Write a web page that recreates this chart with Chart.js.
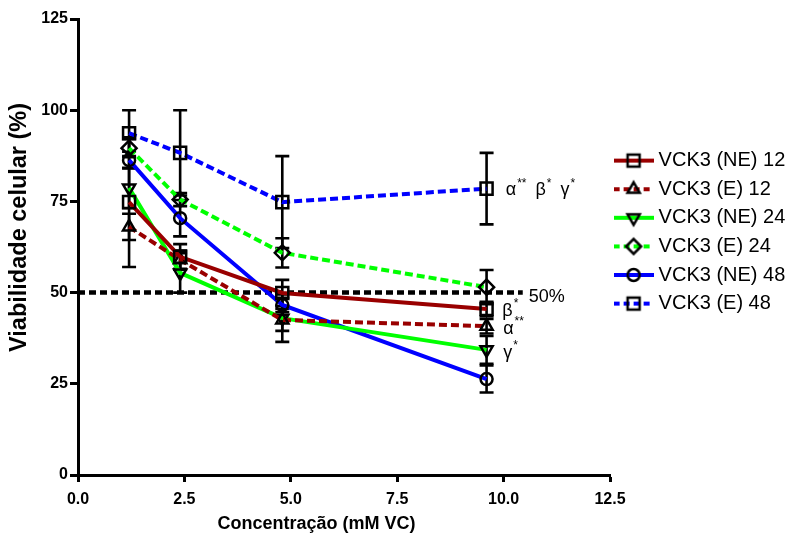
<!DOCTYPE html>
<html lang="pt">
<head>
  <meta charset="UTF-8">
  <title>Viabilidade celular - VCK3</title>
  <script src="https://cdn.jsdelivr.net/npm/chart.js"></script>
  <style>
    html, body {
      margin: 0;
      padding: 0;
      background: #fff;
    }
  </style>
</head>
<body>
<canvas id="viabChart" width="793" height="535"></canvas>

<script>
  // concentrations (mM VC) and viability (%)
  const concentrations = [1.2, 2.4, 4.8, 9.6];
  const seriesNames = ['VCK3 (NE) 12', 'VCK3 (E) 12', 'VCK3 (NE) 24', 'VCK3 (E) 24', 'VCK3 (NE) 48', 'VCK3 (E) 48'];

  const ne12 = [74.8, 59.8, 49.9, 45.5];
  const e12 = [68.0, 59.0, 42.5, 40.8];
  const ne24 = [78.7, 55.4, 43.0, 34.3];
  const e24 = [89.6, 75.5, 60.9, 51.5];
  const ne48 = [86.3, 70.4, 46.6, 26.3];
  const e48 = [93.7, 88.3, 74.8, 78.5];

  // error bar half-lengths (%)
  const ne12Err = [17.8, 3.5, 3.6, 2.0];
  const e12Err = [3.6, 2.5, 3.0, 2.0];
  const ne24Err = [5.5, 5.4, 6.5, 3.8];
  const e24Err = [2.5, 1.8, 4.0, 4.7];
  const ne48Err = [2.3, 5.0, 2.0, 3.7];
  const e48Err = [6.3, 11.7, 12.6, 9.8];

  const xTicks = [0, 2.5, 5, 7.5, 10, 12.5];
  const yTicks = [0, 25, 50, 75, 100, 125];

  const cutoff = 50;
  const cutoffEnd = 10.45;

  // significance marks: [letter, superscript]
  const marks = [
    {x: 10.05, y: 78.3, parts: [['α', '**'], ['β', '*'], ['γ', '*']]},
    {x: 9.97, y: 45.2, parts: [['β', '*']]},
    {x: 9.99, y: 40.3, parts: [['α', '**']]},
    {x: 9.99, y: 33.7, parts: [['γ', '*']]}
  ];

  const seriesValues = [ne12, e12, ne24, e24, ne48, e48];
  const seriesErrors = [ne12Err, e12Err, ne24Err, e24Err, ne48Err, e48Err];

  const styles = [
    {color: '#990000', dash: [], marker: 'rect', radius: 8.5, rotation: 0},
    {color: '#990000', dash: [8, 4], marker: 'triangle', radius: 7, rotation: 0},
    {color: '#00ff00', dash: [], marker: 'triangle', radius: 7, rotation: 180},
    {color: '#00ff00', dash: [8, 4], marker: 'rectRot', radius: 7.5, rotation: 0},
    {color: '#0000ff', dash: [], marker: 'circle', radius: 6, rotation: 0},
    {color: '#0000ff', dash: [8, 4], marker: 'rect', radius: 8.5, rotation: 0}
  ];

  const FONT = "'Liberation Sans', Arial, sans-serif";
  Chart.defaults.font.family = FONT;
  Chart.defaults.color = '#000';

  // little line + marker picture used as the legend symbol
  function legendSwatch(st) {
    const c = document.createElement('canvas');
    c.width = 40;
    c.height = 20;
    const g = c.getContext('2d');
    g.strokeStyle = st.color;
    g.lineWidth = 4;
    g.setLineDash(st.dash.length ? [6, 4] : []);
    g.beginPath();
    g.moveTo(0, 10);
    g.lineTo(40, 10);
    g.stroke();
    g.setLineDash([]);
    g.strokeStyle = '#000';
    g.fillStyle = 'rgba(0,0,0,0)';
    g.lineWidth = 2.5;
    Chart.helpers.drawPoint(g, {pointStyle: st.marker, radius: st.radius, rotation: st.rotation, borderWidth: 2.5}, 20, 10);
    return c;
  }
  const swatches = styles.map(legendSwatch);

  const datasets = seriesValues.map((vals, i) => ({
    label: seriesNames[i],
    data: concentrations.map((x, j) => ({x: x, y: vals[j]})),
    errors: seriesErrors[i],
    borderColor: styles[i].color,
    borderWidth: 4,
    borderDash: styles[i].dash,
    pointStyle: styles[i].marker,
    pointRadius: styles[i].radius,
    pointRotation: styles[i].rotation,
    pointBorderColor: '#000',
    pointBackgroundColor: 'rgba(0,0,0,0)',
    pointBorderWidth: 2.5,
    tension: 0,
    fill: false
  }));

  datasets.push({
    label: '50%',
    isCutoff: true,
    data: [{x: 0, y: cutoff}, {x: cutoffEnd, y: cutoff}],
    borderColor: '#000',
    borderWidth: 4.5,
    borderDash: [7, 4],
    pointRadius: 0,
    fill: false
  });

  const errorBars = {
    id: 'errorBars',
    beforeDatasetsDraw(chart) {
      const {ctx, scales: {x, y}} = chart;
      ctx.save();
      ctx.strokeStyle = '#000';
      ctx.lineWidth = 2.6;
      chart.data.datasets.forEach(ds => {
        if (!ds.errors) return;
        ds.data.forEach((pt, j) => {
          const e = ds.errors[j];
          const px = x.getPixelForValue(pt.x);
          const top = y.getPixelForValue(pt.y + e);
          const bot = y.getPixelForValue(pt.y - e);
          ctx.beginPath();
          ctx.moveTo(px, top);
          ctx.lineTo(px, bot);
          ctx.moveTo(px - 7, top);
          ctx.lineTo(px + 7, top);
          ctx.moveTo(px - 7, bot);
          ctx.lineTo(px + 7, bot);
          ctx.stroke();
        });
      });
      ctx.restore();
    }
  };

  const labels = {
    id: 'labels',
    afterDatasetsDraw(chart) {
      const {ctx, scales: {x, y}} = chart;
      ctx.save();
      ctx.fillStyle = '#000';
      ctx.textBaseline = 'middle';
      ctx.textAlign = 'left';
      marks.forEach(m => {
        let px = x.getPixelForValue(m.x);
        const py = y.getPixelForValue(m.y);
        m.parts.forEach(([base, sup]) => {
          ctx.font = '18px ' + FONT;
          ctx.fillText(base, px, py + 1);
          px += ctx.measureText(base).width + 1;
          ctx.font = '12px ' + FONT;
          ctx.fillText(sup, px, py - 6);
          px += ctx.measureText(sup).width + 9;
        });
      });
      // label of the 50% line
      ctx.font = '18px ' + FONT;
      ctx.fillText('50%', x.getPixelForValue(cutoffEnd) + 6, y.getPixelForValue(cutoff) + 4);
      ctx.restore();
    }
  };

  const chart = new Chart(document.getElementById('viabChart'), {
    type: 'line',
    data: {datasets: datasets},
    options: {
      responsive: false,
      animation: false,
      devicePixelRatio: 1,
      layout: {padding: {top: 19, left: 0, bottom: 0, right: 0}},
      plugins: {
        tooltip: {enabled: false},
        legend: {
          position: 'right',
          align: 'start',
          maxWidth: 183,
          title: {display: true, text: ' ', font: {size: 10, lineHeight: 1}, padding: {top: 113, bottom: 0}},
          labels: {
            usePointStyle: true,
            pointStyleWidth: 30,
            padding: 8.6,
            color: '#000',
            font: {size: 20, lineHeight: 1},
            generateLabels: ch => ch.data.datasets
              .map((ds, i) => ({text: ds.label, pointStyle: swatches[i], datasetIndex: i, hidden: false,
                fontColor: '#000', lineWidth: 0, strokeStyle: 'rgba(0,0,0,0)', fillStyle: 'rgba(0,0,0,0)'}))
              .filter(item => !ch.data.datasets[item.datasetIndex].isCutoff)
          }
        }
      },
      scales: {
        x: {
          type: 'linear',
          min: 0,
          max: 12.5,
          afterBuildTicks: s => { s.ticks = xTicks.map(v => ({value: v})); },
          afterFit: s => { s.height = 60; },
          border: {display: true, color: '#000', width: 3},
          grid: {drawOnChartArea: false, drawTicks: true, tickLength: 7, tickWidth: 3, tickColor: '#000'},
          ticks: {color: '#000', padding: 8, autoSkip: false, maxRotation: 0,
            font: {size: 16, weight: 'bold'}, callback: v => v.toFixed(1)},
          // trailing no-break spaces move the centred title a bit to the left, as in the figure
          title: {display: true, text: 'Concentração (mM VC)' + '\u00a0'.repeat(11), color: '#000',
            font: {size: 18, weight: 'bold'}, padding: {top: 0, bottom: 0}}
        },
        y: {
          type: 'linear',
          min: 0,
          max: 125,
          afterBuildTicks: s => { s.ticks = yTicks.map(v => ({value: v})); },
          afterFit: s => { s.width = 78; },
          border: {display: true, color: '#000', width: 3},
          grid: {drawOnChartArea: false, drawTicks: true, tickLength: 8, tickWidth: 3, tickColor: '#000'},
          ticks: {color: '#000', padding: 2, autoSkip: false, font: {size: 16, weight: 'bold'}},
          title: {display: true, text: '\u00a0'.repeat(6) + 'Viabilidade celular (%)', color: '#000',
            font: {size: 23.5, weight: 'bold'}, padding: {top: 5, bottom: 0}}
        }
      }
    },
    plugins: [errorBars, labels]
  });

  // make the legend column take exactly the space right of x = 12.5
  chart.options.layout.padding.right = Math.max(0, 183 - chart.legend.width);
  chart.update('none');
</script>
</body>
</html>
